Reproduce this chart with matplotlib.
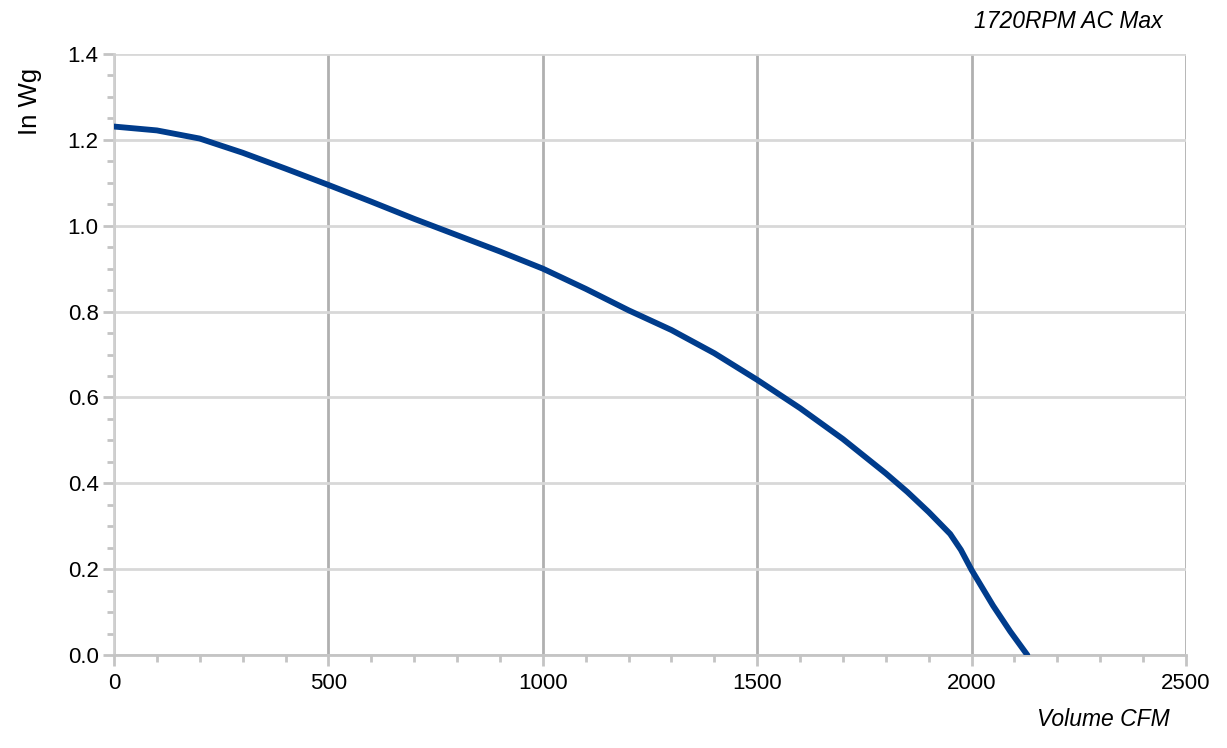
import matplotlib
matplotlib.use("Agg")
import matplotlib.pyplot as plt
from matplotlib.ticker import MultipleLocator

plt.rcParams['font.family'] = ['Liberation Sans', 'DejaVu Sans']

volume_cfm = [0, 100, 200, 300, 400, 500, 600, 700, 800, 900, 1000, 1100, 1200,
              1300, 1400, 1500, 1600, 1700, 1800, 1850, 1900, 1950, 1975, 2000,
              2050, 2090, 2130]
pressure_inwg = [1.231, 1.222, 1.203, 1.170, 1.133, 1.095, 1.056, 1.016, 0.978,
                 0.940, 0.900, 0.853, 0.803, 0.757, 0.703, 0.641, 0.575, 0.503,
                 0.423, 0.380, 0.333, 0.282, 0.245, 0.198, 0.115, 0.055, 0.0]

x_ticks = [0, 500, 1000, 1500, 2000, 2500]
y_ticks = [0.0, 0.2, 0.4, 0.6, 0.8, 1.0, 1.2, 1.4]

fig = plt.figure(figsize=(12.27, 7.48), dpi=100)
ax = fig.add_axes([114/1227, 1-655/748, (1186-114)/1227, (655-54)/748])

ax.plot(volume_cfm, pressure_inwg, color='#003c8c', lw=4.2, solid_capstyle='round',
        solid_joinstyle='round', zorder=3)

ax.set_xlim(0, 2500)
ax.set_ylim(0, 1.4)
ax.set_xticks(x_ticks)
ax.set_yticks(y_ticks)
ax.set_xticklabels([str(v) for v in x_ticks])
ax.set_yticklabels([f"{v:.1f}" for v in y_ticks])
ax.xaxis.set_minor_locator(MultipleLocator(100))
ax.yaxis.set_minor_locator(MultipleLocator(0.05))

ax.grid(axis='x', which='major', color='#b0b0b0', lw=2)
ax.grid(axis='y', which='major', color='#d8d8d8', lw=2)
ax.set_axisbelow(True)

ax.spines['top'].set_visible(False)
ax.spines['right'].set_visible(False)
ax.spines['left'].set_color('#cfcfcf')
ax.spines['left'].set_linewidth(2)
ax.spines['bottom'].set_color('#c4c4c4')
ax.spines['bottom'].set_linewidth(2)

ax.tick_params(axis='both', which='major', length=8, width=2, color='#c4c4c4',
               labelsize=16, labelcolor='black')
ax.tick_params(axis='both', which='minor', length=5, width=2, color='#c4c4c4')
ax.tick_params(axis='x', which='major', pad=5)
ax.tick_params(axis='y', which='major', pad=3)

fig.text(30/1227, 1-101/748, 'In Wg', rotation=90, ha='center', va='center', fontsize=18.5)
fig.text(1163/1227, 1-22/748, '1720RPM AC Max', ha='right', va='center', fontsize=16.5,
         style='italic')
fig.text(1170/1227, 1-720/748, 'Volume CFM', ha='right', va='center', fontsize=16.5,
         style='italic')

fig.savefig('out.png', dpi=100)
